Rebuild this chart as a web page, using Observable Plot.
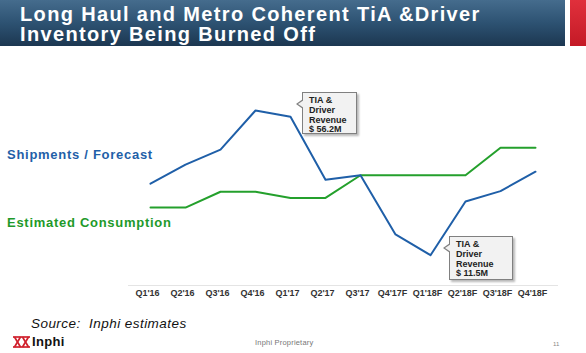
<!DOCTYPE html>
<html><head><meta charset="utf-8">
<script src="https://cdn.jsdelivr.net/npm/d3@7"></script>
<script src="https://cdn.jsdelivr.net/npm/@observablehq/plot@0.6"></script>
<style>
body{margin:0;background:#fff;font-family:"Liberation Sans",Arial,sans-serif;}
#page{position:relative;width:586px;height:353px;overflow:hidden;background:#fff;}
#banner{position:absolute;left:0;top:0;width:565px;height:46px;background:linear-gradient(180deg,#456c8d 0%,#2d5272 50%,#1c3751 100%);}
#redbox{position:absolute;left:570px;top:0;width:16px;height:46px;background:linear-gradient(180deg,#e0303c,#c41a26);}
.title{position:absolute;left:20px;color:#fff;font:bold 20px/20px "Liberation Sans",Arial,sans-serif;letter-spacing:1.35px;white-space:nowrap;}
#chart{position:absolute;left:0;top:47px;}
.serieslabel{position:absolute;left:7px;font:bold 13px/14px "Liberation Sans",Arial,sans-serif;letter-spacing:0.72px;white-space:nowrap;}
.callout{position:absolute;background:#f2f2f2;border:1px solid #808080;box-shadow:2px 2px 2px rgba(0,0,0,0.28);box-sizing:border-box;font:bold 9px/9.8px "Liberation Sans",Arial,sans-serif;color:#222;padding:3px 0 0 6px;}
.callout:before{content:"";position:absolute;left:-7px;top:6px;border-style:solid;border-width:5px 7px 5px 0;border-color:transparent #808080 transparent transparent;}
.callout:after{content:"";position:absolute;left:-5px;top:7px;border-style:solid;border-width:4px 6px 4px 0;border-color:transparent #f2f2f2 transparent transparent;}
#source{position:absolute;left:31px;top:316px;font:italic 13.5px/16px "Liberation Sans",Arial,sans-serif;letter-spacing:0.45px;color:#111;white-space:pre;}
#logo{position:absolute;left:13px;top:336px;}
#logotext{position:absolute;left:32px;top:335px;font:bold 13px/14px "Liberation Sans",Arial,sans-serif;color:#111;letter-spacing:0.3px;}
#prop{position:absolute;left:255px;top:339px;font:7.5px/8px "Liberation Sans",Arial,sans-serif;letter-spacing:0.2px;color:#777;}
#pagenum{position:absolute;left:553px;top:341px;font:6px/7px "Liberation Sans",Arial,sans-serif;color:#888;}
</style></head><body>
<div id="page">
  <div id="banner"></div>
  <div id="redbox"></div>
  <div class="title" style="top:4px;">Long Haul and Metro Coherent TiA &amp;Driver</div>
  <div class="title" style="top:24px;">Inventory Being Burned Off</div>
  <div id="chart"></div>
  <div class="serieslabel" id="lab1" style="top:148px;color:#1f5fa8;"></div>
  <div class="serieslabel" id="lab2" style="top:216px;color:#1e9a2a;"></div>
  <div class="callout" id="c1" style="left:302px;top:92px;width:55px;height:42px;"></div>
  <div class="callout" id="c2" style="left:449px;top:236px;width:64px;height:44px;"></div>
  <div id="source">Source:  Inphi estimates</div>
  <svg id="logo" width="17" height="12" viewBox="0 0 17 12">
    <g stroke="#d0202c" stroke-width="1.7" fill="none">
      <line x1="0" y1="1" x2="17" y2="1"/><line x1="0" y1="11" x2="17" y2="11"/>
      <line x1="1.5" y1="1" x2="7.5" y2="11"/><line x1="7.5" y1="1" x2="1.5" y2="11"/>
      <line x1="9.5" y1="1" x2="15.5" y2="11"/><line x1="15.5" y1="1" x2="9.5" y2="11"/>
    </g>
  </svg>
  <div id="logotext">Inphi</div>
  <div id="prop">Inphi Proprietary</div>
  <div id="pagenum">11</div>
</div>
<script>
const quarters = ["Q1'16","Q2'16","Q3'16","Q4'16","Q1'17","Q2'17","Q3'17","Q4'17F","Q1'18F","Q2'18F","Q3'18F","Q4'18F"];
const shipments = [33.6, 39.5, 44.1, 56.2, 54.3, 34.8, 36.2, 17.9, 11.5, 28.1, 31.3, 37.3];
const consumption = [26.2, 26.2, 31.1, 31.1, 29.2, 29.2, 36.2, 36.2, 36.2, 36.2, 44.7, 44.7];
const seriesNames = ["Shipments / Forecast", "Estimated Consumption"];
const callout1 = ["TIA &", "Driver", "Revenue", "$ 56.2M"];
const callout2 = ["TIA &", "Driver", "Revenue", "$ 11.5M"];

const shipData = quarters.map((q, i) => ({q, v: shipments[i]}));
const consData = quarters.map((q, i) => ({q, v: consumption[i]}));

const chart = Plot.plot({
  width: 586,
  height: 255,
  marginLeft: 128,
  marginRight: 29,
  marginTop: 0,
  marginBottom: 17,
  style: {fontFamily: "Liberation Sans, Arial, sans-serif", background: "transparent", overflow: "visible"},
  x: {type: "point", domain: quarters, range: [145, 539], padding: 0},
  y: {domain: [11.5, 56.2], range: [207.7, 63], axis: null},
  marks: [
    Plot.frame({anchor: "bottom", stroke: "#e4e4e4"}),
    Plot.axisX({tickSize: 0, tickPadding: 4, fontSize: 9, fontWeight: "bold", fill: "#333", label: null, dx: -3}),
    Plot.line(consData, {x: "q", y: "v", stroke: "#24a02c", strokeWidth: 2}),
    Plot.line(shipData, {x: "q", y: "v", stroke: "#1f5fa8", strokeWidth: 2})
  ]
});
document.getElementById("chart").appendChild(chart);
document.getElementById("lab1").textContent = seriesNames[0];
document.getElementById("lab2").textContent = seriesNames[1];
document.getElementById("c1").innerHTML = callout1.map(t => t.replace("&", "&amp;")).join("<br>");
document.getElementById("c2").innerHTML = callout2.map(t => t.replace("&", "&amp;")).join("<br>");
</script>
</body></html>
